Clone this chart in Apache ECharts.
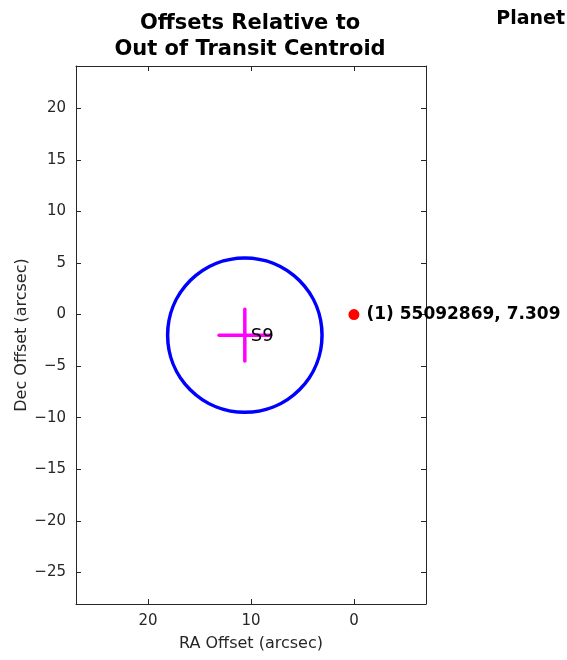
<!DOCTYPE html>
<html>
<head>
<meta charset="utf-8">
<script src="https://cdn.jsdelivr.net/npm/echarts@6/dist/echarts.min.js"></script>
<style>
  html, body { margin: 0; padding: 0; background: #fff; }
  #main { width: 567px; height: 660px; }
</style>
</head>
<body>
<div id="main"></div>
<script>
// axis ranges and ticks
var xRange = [-7, 27];
var yRange = [-28.07, 24.1];
var xTicks = [0, 10, 20];
var yTicks = [-25, -20, -15, -10, -5, 0, 5, 10, 15, 20];

// out of transit centroid offset: [ra, dec, radius]
var centroidCircle = [[10.6, -2, 7.5]];
// crosshair: [ra, dec, raErr, decErr]
var crosshair = [[10.6, -2, 2.5, 2.5]];
var crosshairLabel = "S9";

// catalog sources: [ra, dec, label]
var sources = [[0, 0, "(1) 55092869, 7.309"]];

var fontName = "DejaVu Sans";
var axisColor = "#262626";

var chart = echarts.init(document.getElementById("main"));

// matlab style minus sign
function fmtTick(v) {
  return String(v).replace("-", "\u2212");
}

function mainAxis(extra) {
  return Object.assign({
    type: "value",
    axisLine: { show: true, onZero: false, lineStyle: { color: axisColor, width: 1 } },
    splitLine: { show: false },
    nameMoveOverlap: false,
    nameTextStyle: { color: axisColor, fontFamily: fontName, fontSize: 16 }
  }, extra);
}

function ticks(vals) {
  return { show: true, inside: true, length: 5, lineStyle: { color: axisColor }, customValues: vals };
}

function labels(vals) {
  return { color: axisColor, fontFamily: fontName, fontSize: 15, margin: 10, customValues: vals, formatter: fmtTick };
}

var option = {
  backgroundColor: "#fff",
  animation: false,
  title: [
    {
      text: "Offsets Relative to\nOut of Transit Centroid",
      left: 245, top: 6, textAlign: "center",
      textStyle: { fontFamily: fontName, fontWeight: "bold", fontSize: 21, lineHeight: 26, color: "#000" }
    },
    {
      text: "Planet",
      right: -3, top: 5,
      textStyle: { fontFamily: fontName, fontWeight: "bold", fontSize: 19, color: "#000" }
    }
  ],
  grid: { left: 76, right: 141, top: 66, bottom: 56, containLabel: false, outerBoundsMode: "none" },
  xAxis: [
    mainAxis({
      min: xRange[0], max: xRange[1], inverse: true, position: "bottom",
      name: "RA Offset (arcsec)", nameLocation: "middle", nameGap: 32,
      axisTick: ticks(xTicks),
      axisLabel: labels(xTicks)
    }),
    mainAxis({
      min: xRange[0], max: xRange[1], inverse: true, position: "top",
      axisTick: ticks(xTicks),
      axisLabel: { show: false }
    })
  ],
  yAxis: [
    mainAxis({
      min: yRange[0], max: yRange[1], position: "left",
      name: "Dec Offset (arcsec)", nameLocation: "middle", nameGap: 46,
      axisTick: ticks(yTicks),
      axisLabel: labels(yTicks)
    }),
    mainAxis({
      min: yRange[0], max: yRange[1], position: "right",
      axisTick: ticks(yTicks),
      axisLabel: { show: false }
    })
  ],
  series: [
    {
      type: "custom",
      data: centroidCircle,
      renderItem: function (params, api) {
        var c = api.coord([api.value(0), api.value(1)]);
        var r = api.size([api.value(2), api.value(2)])[0];
        return {
          type: "circle",
          shape: { cx: c[0], cy: c[1], r: r },
          style: { fill: null, stroke: "#0000ff", lineWidth: 3.5 }
        };
      },
      z: 2
    },
    {
      type: "custom",
      data: crosshair,
      renderItem: function (params, api) {
        var x = api.value(0), y = api.value(1), ex = api.value(2), ey = api.value(3);
        var h0 = api.coord([x - ex, y]), h1 = api.coord([x + ex, y]);
        var v0 = api.coord([x, y - ey]), v1 = api.coord([x, y + ey]);
        var c = api.coord([x, y]);
        var st = { stroke: "#ff00ff", lineWidth: 3.5, lineCap: "round" };
        return {
          type: "group",
          children: [
            { type: "line", shape: { x1: h0[0], y1: h0[1], x2: h1[0], y2: h1[1] }, style: st },
            { type: "line", shape: { x1: v0[0], y1: v0[1], x2: v1[0], y2: v1[1] }, style: st },
            {
              type: "text", z2: 10,
              style: {
                x: c[0] + 6, y: c[1] + 1, text: crosshairLabel,
                fill: "#000", font: "18px " + fontName,
                textAlign: "left", textVerticalAlign: "middle"
              }
            }
          ]
        };
      },
      z: 3
    },
    {
      type: "scatter",
      data: sources.map(function (s) { return { value: [s[0], s[1]], name: s[2] }; }),
      symbol: "circle",
      symbolSize: 11,
      itemStyle: { color: "#ff0000", opacity: 1 },
      label: {
        show: true, position: "right", distance: 7,
        formatter: function (p) { return p.name; },
        color: "#000", fontFamily: fontName, fontWeight: "bold", fontSize: 17
      },
      emphasis: { disabled: true },
      z: 4
    }
  ]
};

chart.setOption(option);
</script>
</body>
</html>
